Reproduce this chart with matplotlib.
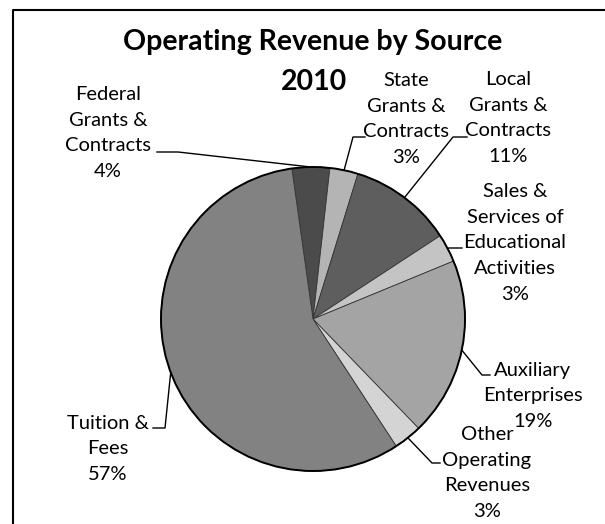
import numpy as np
import matplotlib
matplotlib.use("Agg")
import matplotlib.pyplot as plt
from matplotlib.patches import Circle

plt.rcParams['font.family'] = ['Lato', 'DejaVu Sans']

# data (clockwise from top)
sources = ["Federal\nGrants &\nContracts", "State\nGrants &\nContracts",
           "Local\nGrants &\nContracts", "Sales &\nServices of\nEducational\nActivities",
           "Auxiliary\nEnterprises", "Other\nOperating\nRevenues", "Tuition &\nFees"]
shares = [4, 3, 11, 3, 19, 3, 57]
grays = ["#4b4b4b", "#b4b4b4", "#5e5e5e", "#c4c4c4", "#a4a4a4", "#d4d4d4", "#828282"]

W, H = 605, 524
def yp(y):  # pixel-from-top -> data y
    return H - y

fig = plt.figure(figsize=(6.05, 5.24), dpi=100)
ax = fig.add_axes([0, 0, 1, 1])

cx, cy, r = 313, 319, 152
wedges, _ = ax.pie(shares, colors=grays, startangle=98, counterclock=False,
                   center=(cx, yp(cy)), radius=r,
                   wedgeprops=dict(linewidth=0.6, edgecolor="#333333"))
ax.add_patch(Circle((cx, yp(cy)), r, fill=False, edgecolor="black", lw=1.4))
ax.set_xlim(0, W)
ax.set_ylim(0, H)
ax.set_aspect('equal')
ax.axis('off')

# chart frame (left and top edges visible in the scan)
ax.plot([13, 13, W + 5], [yp(H + 5), yp(10), yp(10)], color="black", lw=1.5)

ax.text(313, yp(42), "Operating Revenue by Source", ha="center", va="center",
        fontsize=20.5, fontweight="bold")
ax.text(314, yp(82), "2010", ha="center", va="center", fontsize=20.5, fontweight="bold")

# label block centre, leader start, leader elbow (pixels from top)
label_pos = [(108, 133), (406, 119), (508, 118), (515, 243), (533, 396), (487, 473), (108, 449)]
lead_start = [(157, 152), (365, 137), (467, 137), (462, 248), (490, 375), (440, 463), (153, 428)]
lead_elbow = [(178, 152), (353, 137), (453, 137), (450, 248), (482, 375), (432, 463), (165, 428)]

for w, name, pct, (tx, ty), s, e in zip(wedges, sources, shares, label_pos, lead_start, lead_elbow):
    ax.text(tx, yp(ty), f"{name}\n{pct}%", ha="center", va="center",
            fontsize=14.5, linespacing=1.62)
    mid = np.deg2rad((w.theta1 + w.theta2) / 2)
    rx, ry = cx + r * np.cos(mid), yp(cy) + r * np.sin(mid)
    ax.plot([s[0], e[0], rx], [yp(s[1]), yp(e[1]), ry], color="black", lw=1)

fig.savefig("out.png", dpi=100)
